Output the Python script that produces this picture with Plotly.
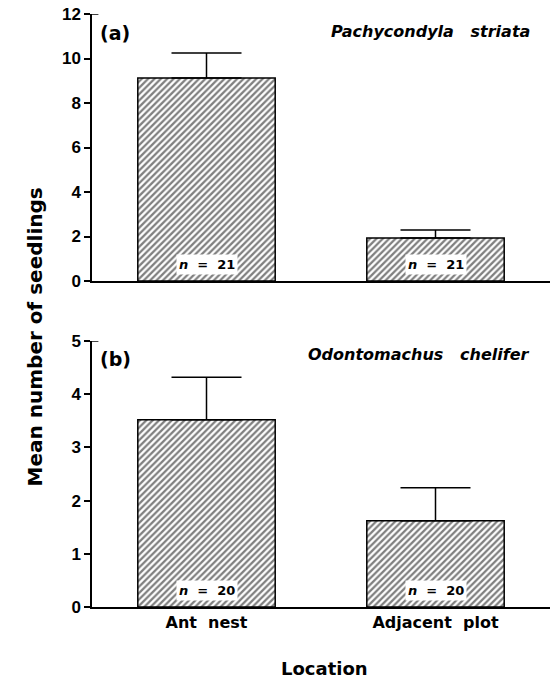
import plotly.graph_objects as go

categories = ["Ant\u00a0\u00a0nest", "Adjacent\u00a0\u00a0plot"]
means_a = [9.12, 1.93]
err_a = [1.13, 0.36]
n_a = [21, 21]
means_b = [3.52, 1.62]
err_b = [0.80, 0.62]
n_b = [20, 20]
ymax_a, dtick_a = 12, 2
ymax_b, dtick_b = 5, 1
species_a = "Pachycondyla\u00a0\u00a0\u00a0striata"
species_b = "Odontomachus\u00a0\u00a0\u00a0chelifer"

SANS = "Liberation Sans, Arial, sans-serif"
WIDE = "DejaVu Sans, sans-serif"

fig = go.Figure()

def add_bars(means, errs, xa, ya):
    fig.add_trace(go.Bar(
        x=categories, y=means, xaxis=xa, yaxis=ya, width=0.6,
        marker=dict(color="white", line=dict(color="black", width=1.5),
                    pattern=dict(shape="/", fgcolor="black", bgcolor="white", size=4.5, solidity=0.5)),
        error_y=dict(type="data", symmetric=False, array=errs, arrayminus=[0]*len(errs),
                     color="black", thickness=1.5, width=35),
        showlegend=False, hoverinfo="skip",
    ))

add_bars(means_a, err_a, "x", "y")
add_bars(means_b, err_b, "x2", "y2")

axis_common = dict(showline=True, linecolor="black", linewidth=1.5, mirror=False,
                   showgrid=False, zeroline=False, automargin=False)
tickfont = dict(family=SANS, size=17, color="black", weight="bold")

fig.update_layout(
    width=558, height=682,
    margin=dict(l=92, r=8, t=14, b=75),
    paper_bgcolor="white", plot_bgcolor="white",
    xaxis=dict(**axis_common, domain=[0, 1], anchor="y", range=[-0.5, 1.5],
               showticklabels=False, ticks=""),
    yaxis=dict(**axis_common, domain=[0.5497, 1], anchor="x", range=[0, ymax_a], dtick=dtick_a,
               ticks="outside", ticklen=6, tickwidth=1.5, tickcolor="black", tickfont=tickfont),
    xaxis2=dict(**axis_common, domain=[0, 1], anchor="y2", range=[-0.5, 1.5],
                ticks="", tickfont=dict(family=WIDE, size=16, color="black", weight="bold")),
    yaxis2=dict(**axis_common, domain=[0, 0.4486], anchor="x2", range=[0, ymax_b], dtick=dtick_b,
                ticks="outside", ticklen=6, tickwidth=1.5, tickcolor="black", tickfont=tickfont),
)

# small inward hooks at the top of each y axis
for ya, ymax in (("y", ymax_a), ("y2", ymax_b)):
    fig.add_shape(type="line", xref=("x domain" if ya == "y" else "x2 domain"), yref=ya,
                  x0=0, x1=0.014, y0=ymax, y1=ymax, line=dict(color="black", width=1.5))

annots = []
for xa, ya, ns in (("x", "y", n_a), ("x2", "y2", n_b)):
    for cat, n in zip(categories, ns):
        annots.append(dict(x=cat, y=0, xref=xa, yref=ya, yanchor="bottom", yshift=6,
                           text=f"<i>n</i>\u00a0\u00a0=\u00a0\u00a0{n}", showarrow=False, bgcolor="white",
                           font=dict(family=WIDE, size=13, color="black", weight="bold"), borderpad=2))

annots += [
    dict(x=0.013, y=0.968, xref="paper", yref="paper", xanchor="left", yanchor="middle",
         text="(a)", showarrow=False, font=dict(family=WIDE, size=19, color="black", weight="bold")),
    dict(x=0.961, y=0.971, xref="paper", yref="paper", xanchor="right", yanchor="middle",
         text=f"<i>{species_a}</i>", showarrow=False,
         font=dict(family=WIDE, size=16, color="black", weight="bold")),
    dict(x=0.013, y=0.418, xref="paper", yref="paper", xanchor="left", yanchor="middle",
         text="(b)", showarrow=False, font=dict(family=WIDE, size=19, color="black", weight="bold")),
    dict(x=0.961, y=0.425, xref="paper", yref="paper", xanchor="right", yanchor="middle",
         text=f"<i>{species_b}</i>", showarrow=False,
         font=dict(family=WIDE, size=16, color="black", weight="bold")),
    dict(x=0.507, y=-0.103, xref="paper", yref="paper", xanchor="center", yanchor="middle",
         text="Location", showarrow=False, font=dict(family=WIDE, size=18, color="black", weight="bold")),
    dict(x=-0.124, y=0.455, xref="paper", yref="paper", xanchor="center", yanchor="middle",
         text="Mean number of seedlings", textangle=-90, showarrow=False,
         font=dict(family=WIDE, size=20, color="black", weight="bold")),
]
fig.update_layout(annotations=annots)

fig.write_html("out.html", config={"displayModeBar": False},
               post_script="document.body.style.margin='0';document.body.style.overflow='hidden';")
